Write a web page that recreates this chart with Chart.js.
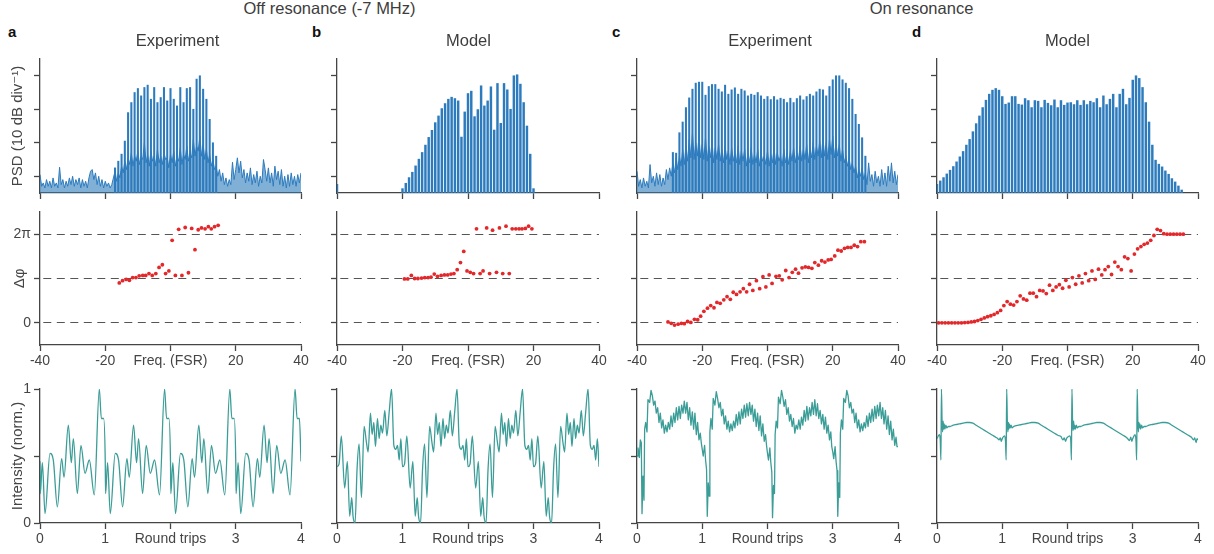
<!DOCTYPE html>
<html>
<head>
<meta charset="utf-8">
<title>Comb spectra, phase and intensity</title>
<script src="https://cdn.jsdelivr.net/npm/chart.js@4.4.1/dist/chart.umd.min.js"></script>
<style>
  html, body { margin: 0; padding: 0; background: #fff; }
  body { position: relative; width: 1214px; height: 554px; overflow: hidden;
         font-family: 'Liberation Sans', Arial, sans-serif; color: #3d3d3d; }
  .label { position: absolute; white-space: nowrap; line-height: 1; z-index: 2; }
  .head { font-size: 16.5px; transform: translateX(-50%); }
  .letter { font-size: 15px; font-weight: bold; color: #111; }
</style>
</head>
<body>
<div class="label head" style="left:329.5px; top:0px">Off resonance (-7 MHz)</div>
<div class="label head" style="left:921.5px; top:0px">On resonance</div>
<div class="label letter" style="left:8px; top:24px">a</div>
<div class="label letter" style="left:312px; top:24px">b</div>
<div class="label letter" style="left:612px; top:24px">c</div>
<div class="label letter" style="left:912px; top:24px">d</div>
<div class="label head" style="left:177.5px; top:32px">Experiment</div>
<div class="label head" style="left:468.5px; top:32px">Model</div>
<div class="label head" style="left:770px; top:32px">Experiment</div>
<div class="label head" style="left:1067.5px; top:32px">Model</div>

<script>
// ---------- axes ----------
const freqTicks = [-40, -20, 0, 20, 40];
const freqTickLabels = ['-40', '-20', 'Freq. (FSR)', '20', '40'];
const psdTicks = [0, 1, 2, 3];                 // 10 dB per division
const phaseTicks = [0, 1, 2];                  // units of pi
const phaseTickLabels = ['0', '', '2π'];
const tripTicks = [0, 1, 2, 3, 4];
const tripTickLabels = ['0', '1', 'Round trips', '3', '4'];
const intensityTicks = [0, 0.5, 1];
const intensityTickLabels = ['0', '', '1'];

const steps = (from, to, step) => Array.from({ length: Math.round((to - from) / step) + 1 }, (_, i) => from + i * step);
const tile = (phases, rounds) => {
    const t = [];
    for (let k = 0; k < rounds; k++) phases.forEach(u => t.push(k + u));
    t.push(rounds);
    return t;
};

// ---------- PSD (comb lines + measured floor, half-FSR sampling) ----------
const floorFreq = steps(-40, 40, 0.5);

const offExpCombFreq = steps(-17, 14, 1);
const offExpCombLevel = [0.25, 0.45, 0.66, 1.05, 1.90, 2.20, 2.50, 2.62, 2.40, 2.65, 2.72, 2.30, 2.65, 2.20, 2.35, 2.65,
    2.25, 2.62, 2.30, 2.10, 2.65, 2.20, 2.62, 2.65, 2.00, 2.90, 3.00, 2.60, 2.30, 1.70, 1.00, 0.60];
const offExpFloor = [
    0.05, -0.30, -0.20, -0.35, -0.10, -0.30, -0.15, -0.35, -0.05, -0.30,
    -0.20, -0.35, 0.27, -0.25, -0.10, -0.35, -0.15, -0.30, -0.05, -0.25,
    0.00, -0.30, -0.10, -0.25, -0.05, -0.35, -0.10, -0.30, -0.15, -0.35,
    -0.05, 0.15, 0.20, -0.10, 0.10, -0.25, 0.00, -0.30, -0.10, -0.35,
    -0.15, -0.30, -0.20, -0.35, -0.25, -0.05, 0.15, -0.15, 0.10, -0.05,
    0.30, 0.10, 0.45, 0.20, 0.55, 0.35, 0.70, 0.30, 0.60, 0.45,
    0.75, 0.35, 0.60, 0.50, 1.00, 0.40, 0.65, 0.30, 0.75, 0.45,
    0.60, 0.30, 0.80, 0.40, 0.60, 0.35, 0.70, 0.50, 0.55, 0.25,
    0.65, 0.40, 0.75, 0.30, 0.60, 0.45, 0.85, 0.35, 0.65, 0.50,
    0.90, 0.45, 0.70, 0.55, 1.10, 0.60, 0.90, 0.75, 1.20, 0.60,
    0.95, 0.50, 0.80, 0.40, 0.65, 0.30, 0.50, 0.20, 0.30, 0.00,
    0.20, -0.15, 0.10, -0.25, -0.05, -0.30, -0.10, -0.25, 0.42, -0.10,
    0.20, 0.55, 0.10, 0.45, -0.05, 0.20, -0.20, 0.10, -0.15, 0.25,
    -0.25, 0.05, -0.20, 0.15, -0.30, 0.00, -0.20, 0.50, 0.20, -0.15,
    0.25, -0.20, 0.10, -0.30, 0.30, -0.10, 0.15, -0.25, 0.20, -0.30,
    0.00, -0.35, 0.05, -0.30, 0.10, -0.25, 0.00, -0.30, 0.05, -0.20,
    0.10];

const offModelCombFreq = [-40, ...steps(-20, 20, 1)];
const offModelCombLevel = [-0.24, -0.37, -0.21, -0.04, 0.12, 0.31, 0.51, 0.71, 0.93, 1.16, 1.37, 1.60, 1.80, 2.02,
    2.17, 2.30, 2.36, 2.32, 2.25, 1.17, 1.92, 2.47, 2.54, 1.78, 1.99, 2.70, 2.10, 2.25, 2.67, 1.38, 2.77, 1.58,
    2.77, 2.58, 2.00, 3.00, 3.03, 2.75, 2.20, 1.50, 0.66, -0.37];

const onExpCombFreq = steps(-29, 30, 1);
const onExpCombLevel = [
    0.71, 0.69, 1.30, 1.62, 2.05, 2.34, 2.60, 2.78, 2.81, 2.81,
    2.42, 2.68, 2.74, 2.74, 2.60, 2.52, 2.72, 2.45, 2.58, 2.64,
    2.45, 2.60, 2.55, 2.40, 2.45, 2.42, 2.50, 2.40, 2.30, 2.38,
    2.29, 2.38, 2.28, 2.33, 2.30, 2.20, 2.33, 2.20, 2.32, 2.40,
    2.28, 2.38, 2.45, 2.40, 2.52, 2.60, 2.58, 2.40, 2.68, 2.88,
    3.00, 3.00, 2.88, 2.78, 2.62, 2.30, 1.85, 1.55, 1.15, 0.60];
const onExpFloor = [
    0.15, -0.30, -0.10, -0.35, -0.05, -0.30, -0.15, -0.35, 0.35, -0.20,
    0.00, -0.30, 0.10, -0.25, 0.05, -0.30, -0.05, -0.25, 0.20, -0.10,
    0.25, 0.00, 0.40, 0.10, 0.55, 0.20, 0.60, 0.30, 0.80, 0.35,
    0.90, 0.45, 1.10, 0.55, 1.30, 0.50, 1.00, 0.60, 1.20, 0.55,
    0.95, 0.50, 1.15, 0.45, 0.90, 0.55, 1.05, 0.40, 0.85, 0.50,
    0.95, 0.45, 0.80, 0.40, 0.90, 0.50, 0.75, 0.35, 0.85, 0.45,
    0.70, 0.40, 0.90, 0.35, 0.75, 0.45, 0.80, 0.30, 0.70, 0.40,
    0.85, 0.35, 0.65, 0.40, 0.80, 0.30, 0.70, 0.45, 0.60, 0.35,
    0.75, 0.30, 0.65, 0.40, 0.85, 0.35, 0.70, 0.45, 0.60, 0.30,
    0.80, 0.40, 0.70, 0.35, 0.75, 0.45, 0.85, 0.40, 0.70, 0.50,
    0.90, 0.45, 0.80, 0.50, 0.95, 0.40, 0.85, 0.55, 1.00, 0.50,
    0.90, 0.60, 1.05, 0.55, 1.15, 0.60, 1.00, 0.50, 1.10, 0.65,
    1.20, 0.55, 1.00, 0.60, 0.95, 0.45, 0.80, 0.40, 0.60, 0.30,
    0.55, 0.20, 0.40, 0.10, 0.30, -0.05, 0.20, 0.00, 0.25, -0.10,
    0.10, -0.25, 0.40, -0.15, 0.05, -0.30, 0.15, -0.20, 0.00, -0.30,
    0.20, -0.25, 0.10, -0.30, 0.30, -0.15, 0.40, -0.20, 0.15, -0.25,
    0.05];

const onModelCombFreq = steps(-40, 35, 1);
const onModelCombLevel = [
    -0.24, -0.14, -0.04, 0.07, 0.18, 0.29, 0.43, 0.58, 0.74, 0.93,
    1.10, 1.33, 1.57, 1.80, 2.05, 2.27, 2.45, 2.57, 2.62, 2.57,
    2.38, 2.15, 2.19, 2.38, 2.38, 2.15, 2.13, 2.32, 2.26, 2.05,
    2.26, 2.24, 2.05, 2.27, 2.18, 2.11, 2.28, 2.05, 2.26, 2.12,
    2.19, 2.20, 2.14, 2.26, 2.12, 2.26, 2.14, 2.24, 2.20, 2.32,
    2.05, 2.40, 2.14, 2.30, 2.45, 2.05, 2.45, 2.60, 2.14, 2.33,
    2.87, 3.00, 2.92, 2.65, 2.20, 1.62, 0.93, 0.48, 0.36, 0.28,
    0.16, 0.06, -0.07, -0.17, -0.29, -0.41];

// ---------- spectral phase (units of pi) ----------
const offExpPhaseFreq = [-15.7, -14.7, -13.6, -12.6, -11.6, -10.6, -9.6, -8.5, -7.6, -6.6, -5.6, -4.5, -3.5, -2.5, -1.5,
    -0.5, 0.5, 1.5, 2.5, 3.5, 4.5, 5.5, 6.5, 7.5, 8.5, 9.5, 10.6, 11.6, 12.5, 13.5, 14.6];
const offExpPhase = [0.90, 0.95, 0.98, 0.96, 1.02, 1.02, 1.06, 1.07, 1.07, 1.11, 1.07, 1.11, 1.25, 1.31, 1.11,
    1.17, 1.86, 1.07, 2.11, 1.07, 2.15, 1.13, 2.13, 1.65, 2.10, 2.14, 2.12, 2.17, 2.12, 2.17, 2.20];

const offModelPhaseFreq = [-19.4, -18.4, -17.3, -16.3, -15.3, -14.2, -13.2, -12.2, -11.3, -10.3, -9.3, -8.2, -7.2, -6.2,
    -5.2, -4.3, -3.3, -2.3, -1.3, -0.3, 0.7, 1.7, 2.6, 3.7, 4.6, 5.7, 6.6, 7.5, 8.7, 9.6, 10.6, 11.6, 12.6, 13.5,
    14.6, 15.6, 16.5, 17.5, 18.5, 19.5];
const offModelPhase = [0.99, 0.99, 1.07, 1.00, 1.00, 1.01, 1.02, 1.02, 1.03, 1.10, 1.05, 1.07, 1.08, 1.08, 1.10, 1.11,
    1.20, 1.36, 1.61, 1.17, 1.14, 1.11, 2.12, 1.11, 1.17, 2.14, 1.11, 2.09, 1.14, 2.14, 1.11, 2.18, 1.11, 2.12,
    2.12, 2.12, 2.12, 2.13, 2.18, 2.12];

const onExpPhaseFreq = [-30.5, -29.5, -28.5, -27.4, -26.4, -25.5, -24.5, -23.5, -22.4, -21.4, -20.5, -19.5, -18.4,
    -17.4, -16.4, -15.5, -14.5, -13.4, -12.4, -11.4, -10.5, -9.5, -8.4, -7.4, -6.4, -5.5, -4.5, -3.4, -2.4, -1.4,
    -0.5, 0.5, 1.4, 2.6, 3.6, 4.5, 5.6, 6.6, 7.6, 8.6, 9.5, 10.6, 11.6, 12.6, 13.6, 14.5, 15.6, 16.6, 17.6, 18.6,
    19.5, 20.6, 21.6, 22.6, 23.6, 24.6, 25.6, 26.6, 27.6, 28.6, 29.7];
const onExpPhase = [0.02, -0.01, -0.05, -0.03, -0.01, -0.02, 0.03, 0.01, 0.08, 0.07, 0.15, 0.26, 0.33, 0.39, 0.34,
    0.46, 0.44, 0.52, 0.59, 0.53, 0.69, 0.64, 0.70, 0.77, 0.70, 0.87, 0.73, 0.95, 0.77, 1.04, 0.81, 1.08, 0.89,
    1.05, 1.06, 0.97, 1.18, 1.02, 1.14, 1.21, 1.12, 1.24, 1.26, 1.25, 1.23, 1.36, 1.30, 1.40, 1.37, 1.42, 1.43,
    1.51, 1.64, 1.62, 1.68, 1.70, 1.70, 1.75, 1.72, 1.83, 1.83];

const onModelPhaseFreq = steps(-39.5, 35.5, 1);
const onModelPhase = [
    0, 0, 0, 0, 0, 0, 0, 0, 0.005,
    0.01, 0.02, 0.03, 0.05, 0.08, 0.11, 0.14, 0.16, 0.19, 0.23,
    0.28, 0.39, 0.48, 0.42, 0.40, 0.48, 0.61, 0.54, 0.51, 0.67,
    0.67, 0.59, 0.73, 0.72, 0.66, 0.85, 0.73, 0.81, 0.86, 0.78,
    0.96, 0.81, 1.02, 0.87, 1.06, 0.90, 1.11, 0.95, 1.17, 0.98,
    1.21, 1.08, 1.20, 1.27, 1.09, 1.37, 1.27, 1.20, 1.49, 1.45,
    1.17, 1.55, 1.67, 1.72, 1.77, 1.80, 1.86, 1.97, 2.11, 2.08,
    2.01, 2.00, 2.00, 2.00, 2.00, 2.00, 2.00];

// ---------- intensity vs round trips (sample points within each trip) ----------
const offExpTripPhase = [0, 0.005, 0.036, 0.077, 0.153, 0.204, 0.266, 0.332, 0.368, 0.434, 0.480, 0.511, 0.572,
    0.628, 0.690, 0.756, 0.832, 0.909, 0.940, 0.976];
const offExpIntensity = [
    0.46, 0.22, 0.45, 0.07, 0.52, 0.47, 0.12, 0.48, 0.34, 0.73, 0.45, 0.63, 0.22, 0.58, 0.37, 0.47, 0.21, 1.00, 0.78, 0.78,
    0.46, 0.22, 0.45, 0.07, 0.52, 0.47, 0.12, 0.48, 0.34, 0.73, 0.45, 0.63, 0.22, 0.58, 0.37, 0.47, 0.21, 1.00, 0.78, 0.78,
    0.46, 0.22, 0.45, 0.07, 0.52, 0.47, 0.12, 0.48, 0.34, 0.73, 0.45, 0.63, 0.22, 0.58, 0.37, 0.47, 0.21, 1.00, 0.78, 0.78,
    0.46, 0.22, 0.45, 0.07, 0.52, 0.47, 0.12, 0.48, 0.34, 0.73, 0.45, 0.63, 0.22, 0.58, 0.37, 0.47, 0.21, 1.00, 0.78, 0.78,
    0.46];

const offModelTripPhase = [0, 0.031, 0.066, 0.117, 0.158, 0.194, 0.225, 0.245, 0.276, 0.306, 0.337, 0.373, 0.414,
    0.450, 0.475, 0.511, 0.536, 0.562, 0.587, 0.618, 0.643, 0.669, 0.695, 0.730, 0.761, 0.797, 0.833, 0.868, 0.899,
    0.924, 0.950, 0.975];
const offModelIntensity = [
    0.42, 0.44, 0.65, 0.26, 0.46, 0.05, 0.19, 0.05, 0.00, 0.40, 0.59, 0.19, 0.72, 0.60, 0.53, 0.82,
    0.66, 0.75, 0.57, 0.78, 0.63, 0.73, 0.67, 0.84, 0.65, 0.83, 1.00, 0.58, 0.55, 0.58, 0.47, 0.63,
    0.42, 0.44, 0.65, 0.26, 0.46, 0.05, 0.19, 0.05, 0.00, 0.40, 0.59, 0.19, 0.72, 0.60, 0.53, 0.82,
    0.66, 0.75, 0.57, 0.78, 0.63, 0.73, 0.67, 0.84, 0.65, 0.83, 1.00, 0.58, 0.55, 0.58, 0.47, 0.63,
    0.42, 0.44, 0.65, 0.26, 0.46, 0.05, 0.19, 0.05, 0.00, 0.40, 0.59, 0.19, 0.72, 0.60, 0.53, 0.82,
    0.66, 0.75, 0.57, 0.78, 0.63, 0.73, 0.67, 0.84, 0.65, 0.83, 1.00, 0.58, 0.55, 0.58, 0.47, 0.63,
    0.42, 0.44, 0.65, 0.26, 0.46, 0.05, 0.19, 0.05, 0.00, 0.40, 0.59, 0.19, 0.72, 0.60, 0.53, 0.82,
    0.66, 0.75, 0.57, 0.78, 0.63, 0.73, 0.67, 0.84, 0.65, 0.83, 1.00, 0.58, 0.55, 0.58, 0.47, 0.63,
    0.42];

const onExpTripPhase = [0, 0.015, 0.036, 0.051, 0.066, 0.077, 0.092, 0.107, 0.117, 0.133, 0.153, 0.168, 0.194, 0.215,
    0.235, 0.255, 0.276, 0.296, 0.317, 0.337, 0.357, 0.378, 0.398, 0.419, 0.439, 0.460, 0.480, 0.501, 0.521, 0.541,
    0.562, 0.582, 0.603, 0.623, 0.644, 0.664, 0.684, 0.705, 0.725, 0.746, 0.766, 0.786, 0.807, 0.827, 0.848, 0.868,
    0.888, 0.909, 0.929, 0.950, 0.970, 0.985];
const onExpIntensity = [
    0.50, 0.56, 0.49, 0.62, 0.60, 0.07, 0.35, 0.17, 0.70, 0.75, 0.68, 0.92, 0.90, 0.99, 0.95, 0.88, 0.91, 0.82,
    0.86, 0.75, 0.82, 0.71, 0.77, 0.67, 0.73, 0.68, 0.75, 0.70, 0.80, 0.72, 0.82, 0.75, 0.86, 0.77, 0.87, 0.78,
    0.88, 0.82, 0.91, 0.82, 0.90, 0.77, 0.86, 0.73, 0.83, 0.70, 0.82, 0.66, 0.75, 0.62, 0.67, 0.60,
    0.55, 0.50, 0.58, 0.47, 0.40, 0.05, 0.30, 0.20, 0.68, 0.78, 0.70, 0.93, 0.88, 0.98, 0.93, 0.86, 0.90, 0.80,
    0.85, 0.74, 0.80, 0.70, 0.76, 0.68, 0.74, 0.69, 0.76, 0.71, 0.81, 0.73, 0.83, 0.74, 0.85, 0.78, 0.88, 0.79,
    0.89, 0.80, 0.90, 0.81, 0.88, 0.76, 0.85, 0.72, 0.82, 0.69, 0.80, 0.65, 0.74, 0.61, 0.66, 0.58,
    0.52, 0.47, 0.56, 0.45, 0.38, 0.04, 0.28, 0.22, 0.66, 0.76, 0.71, 0.94, 0.89, 0.99, 0.94, 0.87, 0.92, 0.81,
    0.86, 0.76, 0.81, 0.72, 0.78, 0.67, 0.73, 0.70, 0.77, 0.70, 0.79, 0.73, 0.84, 0.76, 0.87, 0.77, 0.86, 0.80,
    0.90, 0.81, 0.92, 0.80, 0.89, 0.78, 0.84, 0.74, 0.81, 0.70, 0.79, 0.67, 0.73, 0.62, 0.68, 0.57,
    0.53, 0.48, 0.57, 0.46, 0.39, 0.05, 0.30, 0.19, 0.67, 0.77, 0.70, 0.93, 0.90, 0.99, 0.95, 0.86, 0.90, 0.82,
    0.85, 0.75, 0.82, 0.71, 0.77, 0.68, 0.74, 0.69, 0.75, 0.71, 0.80, 0.72, 0.82, 0.75, 0.85, 0.76, 0.87, 0.78,
    0.88, 0.80, 0.90, 0.78, 0.86, 0.74, 0.84, 0.70, 0.80, 0.66, 0.76, 0.62, 0.70, 0.58, 0.64, 0.57,
    0.57];

const onModelTripPhase = [0, 0.035, 0.050, 0.060, 0.068, 0.078, 0.086, 0.094, 0.102, 0.110, 0.120, 0.135, 0.150,
    0.175, 0.200, 0.250, 0.300, 0.350, 0.400, 0.450, 0.500, 0.550, 0.600, 0.650, 0.700, 0.750, 0.800, 0.850, 0.900,
    0.930, 0.950, 0.970, 0.985];
const onModelIntensity = [
    0.63, 0.66, 0.62, 0.47, 1.00, 0.75, 0.68, 0.76, 0.70, 0.74, 0.70, 0.73, 0.71, 0.72, 0.72, 0.73, 0.735,
    0.74, 0.745, 0.75, 0.75, 0.745, 0.73, 0.715, 0.70, 0.685, 0.67, 0.655, 0.64, 0.63, 0.62, 0.635, 0.61,
    0.63, 0.65, 0.61, 0.47, 1.00, 0.76, 0.68, 0.75, 0.70, 0.74, 0.71, 0.73, 0.71, 0.72, 0.725, 0.73, 0.735,
    0.74, 0.745, 0.75, 0.75, 0.745, 0.73, 0.715, 0.70, 0.685, 0.67, 0.655, 0.645, 0.62, 0.635, 0.61, 0.63,
    0.64, 0.65, 0.62, 0.47, 1.00, 0.75, 0.69, 0.76, 0.70, 0.73, 0.70, 0.73, 0.71, 0.72, 0.72, 0.73, 0.735,
    0.74, 0.745, 0.75, 0.75, 0.745, 0.73, 0.715, 0.70, 0.685, 0.67, 0.655, 0.64, 0.625, 0.615, 0.64, 0.61,
    0.63, 0.66, 0.61, 0.47, 1.00, 0.76, 0.68, 0.75, 0.71, 0.74, 0.70, 0.73, 0.71, 0.72, 0.72, 0.73, 0.735,
    0.74, 0.745, 0.75, 0.75, 0.745, 0.73, 0.715, 0.70, 0.685, 0.67, 0.655, 0.64, 0.62, 0.635, 0.60, 0.63,
    0.62];

// ---------- styling / layout ----------
const INK = '#454545';
const BLUE = '#2d7bbd';
const RED = '#e3282b';
const TEAL = '#3b9d97';
const PSD_MIN = -0.5;

Chart.defaults.font.family = "'Liberation Sans', 'DejaVu Sans', Arial, sans-serif";
Chart.defaults.font.size = 14;
Chart.defaults.color = INK;

const cols = [{ L: 40, R: 301 }, { L: 337, R: 599 }, { L: 637, R: 898 }, { L: 937, R: 1198 }];
const rows = {
    psd: { T: 59, B: 193, xh: 12 },
    phase: { T: 212, B: 345, xh: 28 },
    trip: { T: 389, B: 523, xh: 28 }
};
const PAD = 14;   // space kept above and right of each plot
const YW = 40;    // width reserved for the y axis

const xy = (xs, ys) => xs.map((x, i) => ({ x, y: ys[i] }));

function makeCanvas(col, row) {
    const c = document.createElement('canvas');
    const w = col.R - col.L + YW + PAD;
    const h = row.B - row.T + PAD + row.xh;
    c.width = w;
    c.height = h;
    c.style.cssText = `position:absolute;left:${col.L - YW}px;top:${row.T - PAD}px;width:${w}px;height:${h}px`;
    document.body.appendChild(c);
    return c;
}

function xAxis(ticks, labels, height) {
    return {
        type: 'linear', min: ticks[0], max: ticks[ticks.length - 1], bounds: 'data', offset: false,
        afterBuildTicks: s => { s.ticks = ticks.map(v => ({ value: v })); },
        afterFit: s => { s.height = height; },
        border: { color: INK, width: 1.3 },
        grid: { drawOnChartArea: false, offset: false, tickLength: 6, tickWidth: 1.3, tickColor: INK },
        ticks: { display: !!labels, autoSkip: false, maxRotation: 0, minRotation: 0, padding: 2,
                 callback: (v, i) => labels ? labels[i] : '' }
    };
}

function yAxis(min, max, ticks, labels, title, titleGap, dashed) {
    return {
        type: 'linear', min, max, bounds: 'data',
        afterBuildTicks: s => { s.ticks = ticks.map(v => ({ value: v })); },
        afterFit: s => { s.width = YW; },
        border: dashed ? { color: INK, width: 1.3, dash: [8, 5.5], dashOffset: 10.5 } : { color: INK, width: 1.3 },
        grid: { drawOnChartArea: !!dashed, color: '#555', lineWidth: 1, tickLength: 6, tickWidth: 1.3,
                tickColor: INK, tickBorderDash: [] },
        ticks: { display: !!labels, autoSkip: false, padding: 3, callback: (v, i) => labels ? labels[i] : '' },
        title: { display: !!title, text: title || '', color: INK, font: { size: 15 },
                 padding: { top: titleGap || 0, bottom: 0 } }
    };
}

function drawPanel(col, row, datasets, x, y) {
    new Chart(makeCanvas(col, row), {
        type: 'scatter',
        data: { datasets },
        options: {
            responsive: false, animation: false, events: [], devicePixelRatio: 1,
            layout: { padding: { top: PAD, right: PAD, left: 0, bottom: 0 } },
            plugins: { legend: { display: false }, tooltip: { enabled: false } },
            scales: { x, y }
        }
    });
}

// comb lines as thin bars; measured spectra also carry a noisy floor drawn as a filled line
const combSets = (freq, level, floor, thickness) => {
    const sets = [{ type: 'bar', data: xy(freq, level), backgroundColor: BLUE, borderWidth: 0,
                    barThickness: thickness, base: PSD_MIN }];
    if (floor) {
        sets.push({ type: 'line', data: xy(floorFreq, floor), borderColor: BLUE, borderWidth: 1,
                    backgroundColor: 'rgba(45,123,189,0.6)', fill: 'start', pointRadius: 0, tension: 0 });
    }
    return sets;
};
const phaseSet = (freq, phase) => [{ data: xy(freq, phase), pointRadius: 1.9, pointBackgroundColor: RED,
                                     pointBorderWidth: 0, showLine: false }];
const tripSet = (phases, values, smooth) => [{ type: 'line', data: xy(tile(phases, 4), values), borderColor: TEAL,
    borderWidth: 1.3, pointRadius: 0, fill: false, borderJoinStyle: 'round',
    cubicInterpolationMode: smooth ? 'monotone' : 'default', tension: 0 }];

// ---------- draw the 4 x 3 grid ----------
const psdData = [
    combSets(offExpCombFreq, offExpCombLevel, offExpFloor, 1.4),
    combSets(offModelCombFreq, offModelCombLevel, null, 1.8),
    combSets(onExpCombFreq, onExpCombLevel, onExpFloor, 1.4),
    combSets(onModelCombFreq, onModelCombLevel, null, 1.8)
];
const phaseData = [
    phaseSet(offExpPhaseFreq, offExpPhase),
    phaseSet(offModelPhaseFreq, offModelPhase),
    phaseSet(onExpPhaseFreq, onExpPhase),
    phaseSet(onModelPhaseFreq, onModelPhase)
];
const tripData = [
    tripSet(offExpTripPhase, offExpIntensity, true),
    tripSet(offModelTripPhase, offModelIntensity, true),
    tripSet(onExpTripPhase, onExpIntensity, false),
    tripSet(onModelTripPhase, onModelIntensity, true)
];

cols.forEach((col, i) => {
    const first = i === 0;
    drawPanel(col, rows.psd, psdData[i],
        xAxis(freqTicks, null, rows.psd.xh),
        yAxis(PSD_MIN, 3.5, psdTicks, null, first ? 'PSD (10 dB div⁻¹)' : null, 9));
    drawPanel(col, rows.phase, phaseData[i],
        xAxis(freqTicks, freqTickLabels, rows.phase.xh),
        yAxis(-0.5, 2.5, phaseTicks, first ? phaseTickLabels : null, first ? 'Δφ' : null, 11, true));
    drawPanel(col, rows.trip, tripData[i],
        xAxis(tripTicks, tripTickLabels, rows.trip.xh),
        yAxis(0, 1, intensityTicks, first ? intensityTickLabels : null, first ? 'Intensity (norm.)' : null, 9));
});
</script>
</body>
</html>
